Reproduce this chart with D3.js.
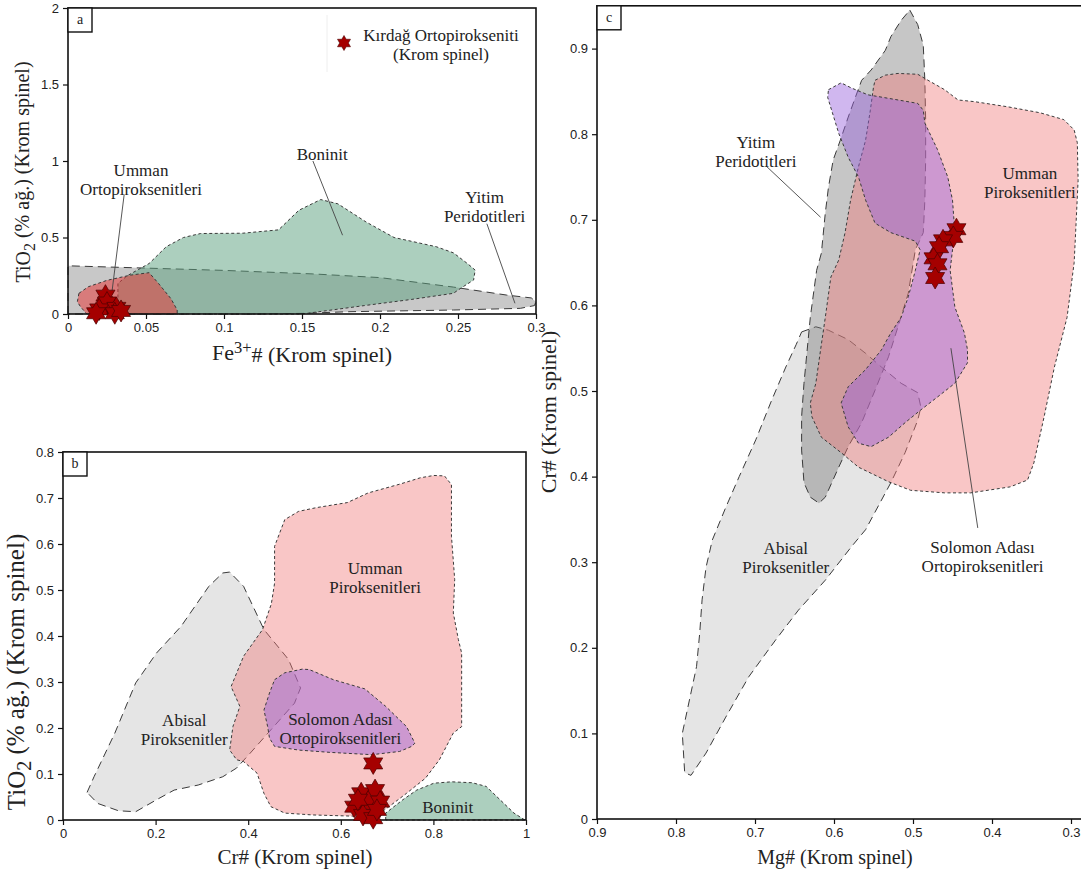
<!DOCTYPE html>
<html lang="tr">
<head>
<meta charset="UTF-8">
<title>Krom spinel diyagramları</title>
<style>
    body { margin: 0; background: #fff; }
    svg { display: block; }
    .tick text { font-family: "Liberation Sans", Arial, sans-serif; font-size: 13px; fill: #222; }
    .tick line { stroke: #111; stroke-width: 1.2; }
    .lbl { font-family: "Liberation Serif", "Times New Roman", serif; font-size: 17px; fill: #222; }
    .title { font-family: "Liberation Serif", "Times New Roman", serif; font-size: 22px; fill: #222; }
</style>
</head>
<body>
<svg id="chart" width="1081" height="870"></svg>
<script src="https://d3js.org/d3.v7.min.js"></script>
<script>
// --- Panel a: Fe3+# - TiO2 ---
const aXTicks = [0, 0.05, 0.1, 0.15, 0.2, 0.25, 0.3];
const aYTicks = [0, 0.5, 1, 1.5, 2];
const aYitim = [[0,0],[0,0.315],[0.05,0.30],[0.1,0.285],[0.157,0.262],[0.2,0.238],[0.247,0.176],[0.281,0.124],[0.297,0.105],[0.3,0.08],[0.299,0.055],[0.29,0.037],[0.247,0.026],[0.18,0.015],[0.15,0.004],[0.12,0]];
const aBoninit = [[0.032,0],[0.032,0.2],[0.038,0.25],[0.045,0.29],[0.052,0.33],[0.063,0.44],[0.074,0.5],[0.085,0.526],[0.112,0.528],[0.135,0.55],[0.148,0.678],[0.162,0.748],[0.173,0.72],[0.191,0.602],[0.209,0.5],[0.236,0.44],[0.247,0.4],[0.256,0.33],[0.261,0.287],[0.26,0.222],[0.252,0.17],[0.247,0.135],[0.22,0.095],[0.19,0.055],[0.15,0]];
const aUmmanOrto = [[0.007,0.135],[0.013,0.178],[0.025,0.22],[0.04,0.254],[0.052,0.27],[0.058,0.2],[0.066,0.1],[0.07,0.026],[0.07,0],[0.012,0],[0.008,0.048],[0.006,0.08]];
const aStars = [[0.024,0.12],[0.025,0.075],[0.02,0.03],[0.031,0.04],[0.018,0.005],[0.03,0.005],[0.034,0.02]];

// --- Panel b: Cr# - TiO2 ---
const bXTicks = [0, 0.2, 0.4, 0.6, 0.8, 1];
const bYTicks = [0, 0.1, 0.2, 0.3, 0.4, 0.5, 0.6, 0.7, 0.8];
const bAbisal = [[0.052,0.06],[0.067,0.094],[0.112,0.189],[0.157,0.298],[0.202,0.363],[0.255,0.421],[0.315,0.508],[0.345,0.537],[0.36,0.539],[0.39,0.508],[0.434,0.414],[0.487,0.349],[0.513,0.287],[0.5,0.254],[0.449,0.196],[0.404,0.145],[0.375,0.113],[0.345,0.094],[0.292,0.076],[0.24,0.065],[0.202,0.044],[0.157,0.018],[0.12,0.02],[0.075,0.036]];
const bUmman = [[0.801,0.749],[0.824,0.748],[0.839,0.729],[0.839,0.617],[0.846,0.523],[0.843,0.45],[0.854,0.392],[0.861,0.363],[0.861,0.203],[0.843,0.189],[0.813,0.131],[0.783,0.091],[0.742,0.058],[0.704,0.029],[0.674,0.007],[0.539,0.011],[0.479,0.015],[0.449,0.029],[0.434,0.058],[0.419,0.102],[0.39,0.127],[0.375,0.131],[0.36,0.152],[0.367,0.203],[0.382,0.247],[0.363,0.29],[0.39,0.356],[0.431,0.414],[0.45,0.47],[0.457,0.515],[0.457,0.595],[0.479,0.653],[0.509,0.671],[0.547,0.679],[0.614,0.69],[0.659,0.711],[0.727,0.73],[0.772,0.744]];
const bSolomon = [[0.457,0.305],[0.479,0.32],[0.517,0.328],[0.532,0.327],[0.584,0.305],[0.652,0.285],[0.697,0.247],[0.742,0.203],[0.76,0.167],[0.753,0.16],[0.727,0.149],[0.667,0.142],[0.577,0.147],[0.509,0.152],[0.457,0.16],[0.446,0.178],[0.442,0.203],[0.434,0.239],[0.446,0.276]];
const bBoninit = [[0.697,0],[0.697,0.015],[0.734,0.044],[0.764,0.065],[0.801,0.08],[0.839,0.083],[0.884,0.081],[0.914,0.073],[0.944,0.044],[0.974,0.015],[0.996,0.001],[1,0]];
const bStars = [[0.670,0.123],[0.644,0.058],[0.674,0.065],[0.629,0.029],[0.659,0.04],[0.685,0.04],[0.648,0.011],[0.670,0.004],[0.678,0.022],[0.637,0.044]];

// --- Panel c: Mg# - Cr# ---
const cXTicks = [0.9, 0.8, 0.7, 0.6, 0.5, 0.4, 0.3];
const cYTicks = [0, 0.1, 0.2, 0.3, 0.4, 0.5, 0.6, 0.7, 0.8, 0.9];
const cAbisal = [[0.641,0.569],[0.623,0.575],[0.607,0.571],[0.582,0.56],[0.56,0.544],[0.54,0.528],[0.515,0.509],[0.494,0.498],[0.49,0.481],[0.494,0.466],[0.51,0.428],[0.528,0.393],[0.56,0.338],[0.578,0.318],[0.611,0.279],[0.645,0.244],[0.674,0.209],[0.708,0.166],[0.737,0.119],[0.762,0.077],[0.781,0.051],[0.789,0.054],[0.792,0.1],[0.783,0.139],[0.774,0.178],[0.77,0.217],[0.767,0.256],[0.762,0.294],[0.754,0.326],[0.737,0.364],[0.72,0.4],[0.699,0.443],[0.679,0.489],[0.661,0.528],[0.648,0.554]];
const cYitim = [[0.504,0.945],[0.494,0.928],[0.487,0.904],[0.485,0.863],[0.484,0.817],[0.484,0.77],[0.485,0.723],[0.487,0.685],[0.497,0.665],[0.506,0.614],[0.519,0.575],[0.531,0.54],[0.548,0.501],[0.565,0.463],[0.582,0.435],[0.594,0.411],[0.611,0.376],[0.619,0.369],[0.63,0.376],[0.638,0.393],[0.641,0.431],[0.641,0.47],[0.638,0.509],[0.63,0.586],[0.622,0.641],[0.616,0.661],[0.611,0.708],[0.607,0.738],[0.601,0.77],[0.592,0.793],[0.582,0.82],[0.573,0.843],[0.565,0.863],[0.553,0.875],[0.535,0.898],[0.528,0.914],[0.515,0.933]];
const cUmman = [[0.548,0.863],[0.535,0.869],[0.519,0.871],[0.494,0.87],[0.481,0.863],[0.46,0.852],[0.443,0.84],[0.422,0.838],[0.38,0.832],[0.339,0.825],[0.309,0.817],[0.296,0.805],[0.292,0.79],[0.291,0.746],[0.294,0.688],[0.296,0.65],[0.305,0.586],[0.321,0.528],[0.334,0.47],[0.347,0.416],[0.355,0.396],[0.377,0.388],[0.427,0.381],[0.46,0.381],[0.503,0.384],[0.531,0.394],[0.569,0.411],[0.591,0.428],[0.616,0.446],[0.628,0.47],[0.63,0.486],[0.623,0.509],[0.617,0.548],[0.611,0.586],[0.604,0.633],[0.594,0.653],[0.586,0.685],[0.579,0.723],[0.569,0.762],[0.56,0.793],[0.554,0.828],[0.55,0.855]];
const cSolomon = [[0.607,0.852],[0.591,0.86],[0.578,0.854],[0.557,0.846],[0.519,0.84],[0.494,0.836],[0.487,0.828],[0.485,0.813],[0.469,0.782],[0.456,0.75],[0.45,0.723],[0.447,0.685],[0.45,0.665],[0.453,0.641],[0.447,0.598],[0.435,0.568],[0.431,0.548],[0.431,0.533],[0.447,0.509],[0.469,0.493],[0.49,0.478],[0.51,0.463],[0.531,0.446],[0.553,0.435],[0.569,0.439],[0.582,0.458],[0.591,0.486],[0.582,0.505],[0.56,0.525],[0.54,0.548],[0.528,0.568],[0.515,0.586],[0.506,0.61],[0.497,0.641],[0.491,0.665],[0.497,0.675],[0.528,0.685],[0.548,0.696],[0.56,0.723],[0.569,0.75],[0.582,0.773],[0.594,0.801],[0.603,0.828],[0.608,0.843]];
const cStars = [[0.445,0.689],[0.449,0.680],[0.462,0.676],[0.467,0.668],[0.474,0.655],[0.469,0.648],[0.472,0.632]];

// region labels (data coordinates of text centre) and leader lines
const aLabels = [
    { lines: ["Umman", "Ortopiroksenitleri"], at: [0.0468, 0.941] },
    { lines: ["Boninit"], at: [0.163, 1.043] },
    { lines: ["Yitim", "Peridotitleri"], at: [0.267, 0.765] }
];
const aLeaders = [[[0.036, 0.78], [0.028, 0.13]], [[0.157, 1.0], [0.176, 0.515]], [[0.2685, 0.59], [0.2865, 0.07]]];
const bLabels = [
    { lines: ["Umman", "Piroksenitleri"], at: [0.674, 0.548] },
    { lines: ["Abisal", "Piroksenitler"], at: [0.262, 0.218] },
    { lines: ["Solomon Adası", "Ortopiroksenitleri"], at: [0.599, 0.219] },
    { lines: ["Boninit"], at: [0.831, 0.029] }
];
const cLabels = [
    { lines: ["Yitim", "Peridotitleri"], at: [0.699, 0.791] },
    { lines: ["Umman", "Piroksenitleri"], at: [0.352, 0.755] },
    { lines: ["Solomon Adası", "Ortopiroksenitleri"], at: [0.412, 0.318] },
    { lines: ["Abisal", "Piroksenitler"], at: [0.661, 0.317] }
];
const cLeaders = [[[0.685, 0.762], [0.617, 0.703]], [[0.452, 0.55], [0.418, 0.34]]];

// styles for the fields
const LONG = "8,5", SHORT = "3,2.5";
const st = {
    yitimA:  { fill: "#c8c8c8", dash: LONG },
    yitimC:  { fill: "rgba(120,120,120,0.42)", dash: LONG },
    abisal:  { fill: "#e5e5e5", dash: LONG },
    boninit: { fill: "rgba(90,160,125,0.5)", dash: SHORT },
    ummanO:  { fill: "rgba(230,60,60,0.55)", dash: SHORT },
    umman:   { fill: "rgba(240,120,120,0.42)", dash: SHORT },
    solomon: { fill: "rgba(150,95,220,0.45)", dash: SHORT }
};

const svg = d3.select("#chart");
svg.append("rect").attr("width", 1081).attr("height", 870).attr("fill", "#fff");

function hexagram(R) {
    const pts = [];
    for (let i = 0; i < 12; i++) {
        const a = -Math.PI / 2 + i * Math.PI / 6;
        const rr = i % 2 === 0 ? R : R / Math.sqrt(3);
        pts.push([rr * Math.cos(a), rr * Math.sin(a)]);
    }
    return d3.line()(pts) + "Z";
}

function drawPanel(p) {
    const g = svg.append("g");
    const x = d3.scaleLinear().domain(p.xDomain).range(p.xRange);
    const y = d3.scaleLinear().domain(p.yDomain).range(p.yRange);
    const line = d3.line().x(d => x(d[0])).y(d => y(d[1])).curve(d3.curveLinearClosed);

    // fields
    p.fields.forEach(f => {
        g.append("path")
            .attr("d", line(f.data))
            .attr("fill", f.style.fill)
            .attr("stroke", "#3a3a3a")
            .attr("stroke-width", 1)
            .attr("stroke-dasharray", f.style.dash);
    });

    // leader lines
    (p.leaders || []).forEach(l => {
        g.append("line")
            .attr("x1", x(l[0][0])).attr("y1", y(l[0][1]))
            .attr("x2", x(l[1][0])).attr("y2", y(l[1][1]))
            .attr("stroke", "#444").attr("stroke-width", 0.9);
    });

    // labels
    p.labels.forEach(lb => {
        const t = g.append("text").attr("class", "lbl").attr("text-anchor", "middle");
        lb.lines.forEach((s, i) => {
            t.append("tspan")
                .attr("x", x(lb.at[0]))
                .attr("y", y(lb.at[1]) + 6 + i * 19)
                .text(s);
        });
    });

    // frame
    const x0 = Math.min(...p.xRange), x1 = Math.max(...p.xRange);
    const y0 = Math.min(...p.yRange), y1 = Math.max(...p.yRange);
    g.append("rect")
        .attr("x", x0).attr("y", y0).attr("width", x1 - x0).attr("height", y1 - y0)
        .attr("fill", "none").attr("stroke", "#111").attr("stroke-width", 1.6);

    // axes
    const ax = g.append("g").attr("transform", `translate(0,${y1})`)
        .call(d3.axisBottom(x).tickValues(p.xTicks).tickSize(5).tickPadding(4).tickFormat(d => String(d)));
    ax.select(".domain").remove();
    const ay = g.append("g").attr("transform", `translate(${x0},0)`)
        .call(d3.axisLeft(y).tickValues(p.yTicks).tickSize(5).tickPadding(4).tickFormat(d => String(d)));
    ay.select(".domain").remove();

    // panel letter
    g.append("rect").attr("x", x0).attr("y", y0).attr("width", 24).attr("height", 24)
        .attr("fill", "#fff").attr("stroke", "#111").attr("stroke-width", 1.4);
    g.append("text").attr("class", "lbl").attr("x", x0 + 12).attr("y", y0 + 16)
        .attr("text-anchor", "middle").style("font-size", "14px").text(p.letter);

    // stars
    g.selectAll(".star").data(p.stars).enter().append("path")
        .attr("class", "star")
        .attr("d", hexagram(11))
        .attr("transform", d => `translate(${x(d[0])},${y(d[1])})`)
        .attr("fill", "#a50000")
        .attr("stroke", "#4a0000")
        .attr("stroke-width", 0.7);

    // axis titles
    const xt = g.append("text").attr("class", "title").attr("text-anchor", "middle")
        .attr("x", p.xTitleX).attr("y", p.xTitleY).style("font-size", p.xTitleSize + "px");
    p.xTitle(xt);
    const yt = g.append("text").attr("class", "title").attr("text-anchor", "middle")
        .style("font-size", p.yTitleSize + "px")
        .attr("transform", `translate(${p.yTitleX},${p.yTitleMid}) rotate(-90)`);
    p.yTitle(yt);
    return { x, y, g };
}

function tio2Title(t) {
    t.append("tspan").text("TiO");
    t.append("tspan").attr("dy", "0.3em").style("font-size", "0.8em").text("2");
    t.append("tspan").attr("dy", "-0.3em").text(" (% ağ.) (Krom spinel)");
}

drawPanel({
    letter: "a", xDomain: [0, 0.3], xRange: [68, 536], yDomain: [0, 2], yRange: [314, 8],
    xTicks: aXTicks, yTicks: aYTicks,
    fields: [
        { data: aYitim, style: st.yitimA },
        { data: aBoninit, style: st.boninit },
        { data: aUmmanOrto, style: st.ummanO }
    ],
    labels: aLabels, leaders: aLeaders, stars: aStars,
    xTitleX: 302, xTitleY: 360, xTitleSize: 22,
    yTitleX: 30, yTitleMid: 172, yTitleSize: 20,
    xTitle: t => {
        t.append("tspan").text("Fe");
        t.append("tspan").attr("dy", "-0.4em").style("font-size", "0.75em").text("3+");
        t.append("tspan").attr("dy", "0.4em").text("# (Krom spinel)");
    },
    yTitle: tio2Title
});

// legend in panel a
svg.append("line").attr("x1", 327).attr("x2", 327).attr("y1", 15).attr("y2", 72)
    .attr("stroke", "#eee").attr("stroke-width", 1);
svg.append("path").attr("d", hexagram(7.5)).attr("transform", "translate(344,43)")
    .attr("fill", "#a50000").attr("stroke", "#4a0000").attr("stroke-width", 0.6);
const lg = svg.append("text").attr("class", "lbl").attr("text-anchor", "middle");
lg.append("tspan").attr("x", 441).attr("y", 41).text("Kırdağ Ortopirokseniti");
lg.append("tspan").attr("x", 441).attr("y", 60).text("(Krom spinel)");

drawPanel({
    letter: "b", xDomain: [0, 1], xRange: [63, 526], yDomain: [0, 0.8], yRange: [820, 452],
    xTicks: bXTicks, yTicks: bYTicks,
    fields: [
        { data: bAbisal, style: st.abisal },
        { data: bUmman, style: st.umman },
        { data: bSolomon, style: st.solomon },
        { data: bBoninit, style: st.boninit }
    ],
    labels: bLabels, leaders: [], stars: bStars,
    xTitleX: 295, xTitleY: 864, xTitleSize: 21,
    yTitleX: 25, yTitleMid: 672, yTitleSize: 25,
    xTitle: t => t.text("Cr# (Krom spinel)"),
    yTitle: tio2Title
});

drawPanel({
    letter: "c", xDomain: [0.9, 0.2], xRange: [597, 1150], yDomain: [0, 0.95], yRange: [819, 5.8],
    xTicks: cXTicks, yTicks: cYTicks,
    fields: [
        { data: cAbisal, style: st.abisal },
        { data: cYitim, style: st.yitimC },
        { data: cUmman, style: st.umman },
        { data: cSolomon, style: st.solomon }
    ],
    labels: cLabels, leaders: cLeaders, stars: cStars,
    xTitleX: 835, xTitleY: 864, xTitleSize: 20,
    yTitleX: 556, yTitleMid: 412, yTitleSize: 22,
    xTitle: t => t.text("Mg# (Krom spinel)"),
    yTitle: t => t.text("Cr# (Krom spinel)")
});
</script>
</body>
</html>
